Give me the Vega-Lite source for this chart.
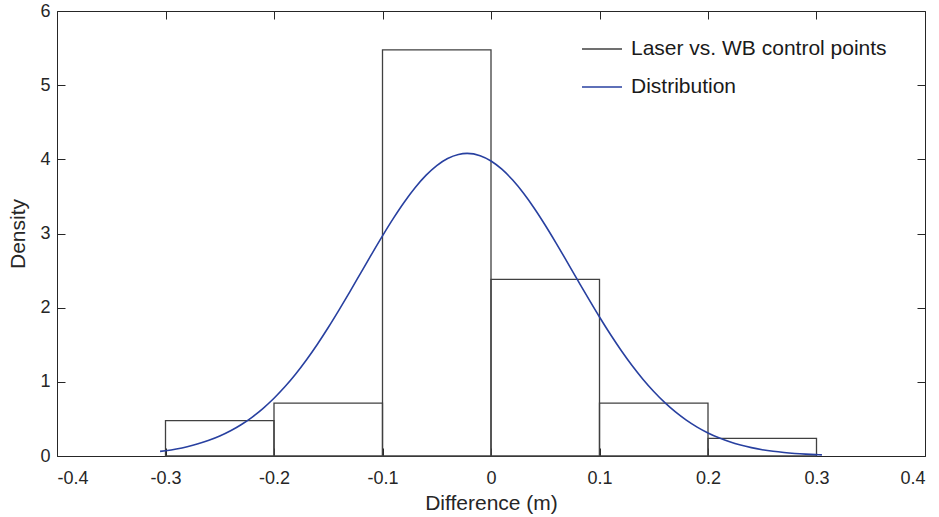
{
  "$schema": "https://vega.github.io/schema/vega-lite/v6.json",
  "width": 868,
  "height": 445,
  "autosize": {"type": "none"},
  "padding": {"left": 57, "top": 11, "right": 14, "bottom": 61},
  "background": "white",
  "config": {
    "view": {"stroke": null},
    "font": "Liberation Sans",
    "axis": {
      "grid": false,
      "domainColor": "#262626",
      "domainWidth": 1,
      "tickColor": "#262626",
      "tickSize": -8,
      "labelColor": "#262626",
      "titleColor": "#262626",
      "labelFont": "Liberation Sans",
      "titleFont": "Liberation Sans",
      "labelFontSize": 18,
      "titleFontSize": 21,
      "titleFontWeight": "normal"
    },
    "legend": {
      "labelFont": "Liberation Sans",
      "labelFontSize": 21,
      "labelColor": "#1a1a1a",
      "labelLimit": 500
    }
  },
  "datasets": {
    "bins": [
      {"x0": -0.3, "x1": -0.2, "density": 0.476, "series": "Laser vs. WB control points"},
      {"x0": -0.2, "x1": -0.1, "density": 0.714, "series": "Laser vs. WB control points"},
      {"x0": -0.1, "x1": 0.0, "density": 5.476, "series": "Laser vs. WB control points"},
      {"x0": 0.0, "x1": 0.1, "density": 2.381, "series": "Laser vs. WB control points"},
      {"x0": 0.1, "x1": 0.2, "density": 0.714, "series": "Laser vs. WB control points"},
      {"x0": 0.2, "x1": 0.3, "density": 0.238, "series": "Laser vs. WB control points"}
    ],
    "curve": [
      {"x": -0.305, "density": 0.062, "series": "Distribution"},
      {"x": -0.30, "density": 0.0718, "series": "Distribution"},
      {"x": -0.29, "density": 0.0955, "series": "Distribution"},
      {"x": -0.28, "density": 0.1257, "series": "Distribution"},
      {"x": -0.27, "density": 0.1638, "series": "Distribution"},
      {"x": -0.26, "density": 0.2112, "series": "Distribution"},
      {"x": -0.25, "density": 0.2694, "series": "Distribution"},
      {"x": -0.24, "density": 0.3401, "series": "Distribution"},
      {"x": -0.23, "density": 0.4251, "series": "Distribution"},
      {"x": -0.22, "density": 0.5256, "series": "Distribution"},
      {"x": -0.21, "density": 0.6431, "series": "Distribution"},
      {"x": -0.20, "density": 0.7787, "series": "Distribution"},
      {"x": -0.19, "density": 0.9329, "series": "Distribution"},
      {"x": -0.18, "density": 1.1064, "series": "Distribution"},
      {"x": -0.17, "density": 1.2985, "series": "Distribution"},
      {"x": -0.16, "density": 1.5076, "series": "Distribution"},
      {"x": -0.15, "density": 1.7325, "series": "Distribution"},
      {"x": -0.14, "density": 1.9704, "series": "Distribution"},
      {"x": -0.13, "density": 2.2174, "series": "Distribution"},
      {"x": -0.12, "density": 2.4696, "series": "Distribution"},
      {"x": -0.11, "density": 2.7217, "series": "Distribution"},
      {"x": -0.10, "density": 2.9686, "series": "Distribution"},
      {"x": -0.09, "density": 3.2040, "series": "Distribution"},
      {"x": -0.08, "density": 3.4221, "series": "Distribution"},
      {"x": -0.07, "density": 3.6170, "series": "Distribution"},
      {"x": -0.06, "density": 3.7833, "series": "Distribution"},
      {"x": -0.05, "density": 3.9162, "series": "Distribution"},
      {"x": -0.04, "density": 4.0115, "series": "Distribution"},
      {"x": -0.03, "density": 4.0664, "series": "Distribution"},
      {"x": -0.022, "density": 4.08, "series": "Distribution"},
      {"x": -0.01, "density": 4.0494, "series": "Distribution"},
      {"x": 0.00, "density": 3.9781, "series": "Distribution"},
      {"x": 0.01, "density": 3.8674, "series": "Distribution"},
      {"x": 0.02, "density": 3.7206, "series": "Distribution"},
      {"x": 0.03, "density": 3.5422, "series": "Distribution"},
      {"x": 0.04, "density": 3.3373, "series": "Distribution"},
      {"x": 0.05, "density": 3.1115, "series": "Distribution"},
      {"x": 0.06, "density": 2.8708, "series": "Distribution"},
      {"x": 0.07, "density": 2.6212, "series": "Distribution"},
      {"x": 0.08, "density": 2.3684, "series": "Distribution"},
      {"x": 0.09, "density": 2.1178, "series": "Distribution"},
      {"x": 0.10, "density": 1.8739, "series": "Distribution"},
      {"x": 0.11, "density": 1.6408, "series": "Distribution"},
      {"x": 0.12, "density": 1.4219, "series": "Distribution"},
      {"x": 0.13, "density": 1.2194, "series": "Distribution"},
      {"x": 0.14, "density": 1.0348, "series": "Distribution"},
      {"x": 0.15, "density": 0.8690, "series": "Distribution"},
      {"x": 0.16, "density": 0.7222, "series": "Distribution"},
      {"x": 0.17, "density": 0.5939, "series": "Distribution"},
      {"x": 0.18, "density": 0.4834, "series": "Distribution"},
      {"x": 0.19, "density": 0.3893, "series": "Distribution"},
      {"x": 0.20, "density": 0.3103, "series": "Distribution"},
      {"x": 0.21, "density": 0.2447, "series": "Distribution"},
      {"x": 0.22, "density": 0.1911, "series": "Distribution"},
      {"x": 0.23, "density": 0.1476, "series": "Distribution"},
      {"x": 0.24, "density": 0.1128, "series": "Distribution"},
      {"x": 0.25, "density": 0.0853, "series": "Distribution"},
      {"x": 0.26, "density": 0.0638, "series": "Distribution"},
      {"x": 0.27, "density": 0.0473, "series": "Distribution"},
      {"x": 0.28, "density": 0.0347, "series": "Distribution"},
      {"x": 0.29, "density": 0.0252, "series": "Distribution"},
      {"x": 0.30, "density": 0.0181, "series": "Distribution"},
      {"x": 0.305, "density": 0.0153, "series": "Distribution"}
    ]
  },
  "layer": [
    {
      "data": {"name": "bins"},
      "mark": {"type": "rect", "fill": null, "fillOpacity": 0, "strokeWidth": 1.3},
      "encoding": {
        "x": {
          "field": "x0", "type": "quantitative",
          "scale": {"domain": [-0.4, 0.4], "nice": false, "zero": false},
          "axis": {
            "orient": "bottom",
            "values": [-0.4, -0.3, -0.2, -0.1, 0, 0.1, 0.2, 0.3, 0.4],
            "labelExpr": "replace(format(datum.value, '.1~f'), '\u2212', '-')",
            "labelPadding": 21,
            "title": "Difference (m)",
            "titlePadding": 5
          }
        },
        "x2": {"field": "x1"},
        "y": {
          "field": "density", "type": "quantitative",
          "scale": {"domain": [0, 6], "nice": false},
          "axis": {
            "orient": "left",
            "values": [0, 1, 2, 3, 4, 5, 6],
            "labelPadding": 15,
            "title": "Density",
            "titlePadding": 11
          }
        },
        "y2": {"datum": 0},
        "stroke": {
          "field": "series", "type": "nominal",
          "scale": {
            "domain": ["Laser vs. WB control points", "Distribution"],
            "range": ["#404040", "#2840a0"]
          },
          "legend": {
            "orient": "none",
            "legendX": 524,
            "legendY": 17,
            "title": null,
            "symbolType": "stroke",
            "symbolSize": 1600,
            "symbolStrokeWidth": 1.5,
            "labelOffset": 8,
            "rowPadding": 7
          }
        }
      }
    },
    {
      "data": {"name": "curve"},
      "mark": {"type": "line", "strokeWidth": 1.6, "interpolate": "monotone"},
      "encoding": {
        "x": {
          "field": "x", "type": "quantitative",
          "axis": {"orient": "top", "values": [-0.4, -0.3, -0.2, -0.1, 0, 0.1, 0.2, 0.3, 0.4], "labels": false, "title": null}
        },
        "y": {
          "field": "density", "type": "quantitative",
          "axis": {"orient": "right", "values": [0, 1, 2, 3, 4, 5, 6], "labels": false, "title": null}
        },
        "stroke": {"field": "series", "type": "nominal"}
      }
    }
  ],
  "resolve": {"axis": {"x": "independent", "y": "independent"}}
}
